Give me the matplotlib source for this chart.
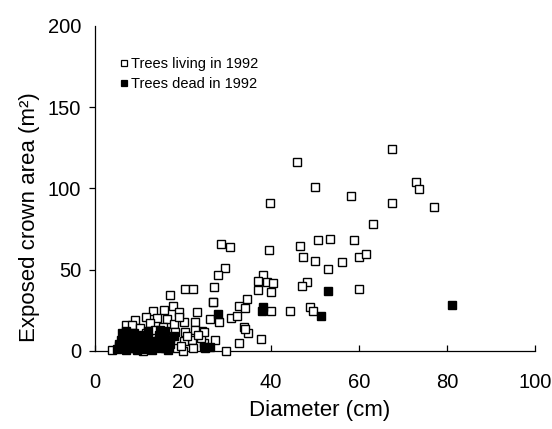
import matplotlib.pyplot as plt
from matplotlib.lines import Line2D
from matplotlib import font_manager

plt.rcParams['font.family'] = ['Liberation Sans', 'DejaVu Sans']

# trees living in 1992 (open squares): diameter (cm), exposed crown area (m2)
living_d = [46.0, 67.5, 50.1, 73.0, 73.7, 58.1, 67.5, 77.0, 63.2, 46.5,
            50.7, 53.5, 58.8, 47.4, 50.1, 53.0, 56.2, 60.0, 61.6, 48.2,
            47.0, 60.1, 48.9, 49.5, 39.9, 28.6, 30.8, 39.5, 29.5, 28.0,
            27.0, 38.3, 37.0, 39.1, 40.5, 37.0, 40.0, 26.9, 34.5, 32.7,
            34.0, 40.0, 44.4, 26.1, 28.1, 30.9, 32.3, 33.8, 34.9, 34.2,
            24.3, 27.4, 37.8, 32.7, 29.9, 24.7, 24.2,
            20.5, 22.4, 17.1, 26.8, 17.7, 15.6, 13.3, 19.2, 23.2, 14.1,
            16.4, 18.0, 20.2, 22.8, 22.8, 20.5, 24.7, 22.1, 20.2, 18.3,
            15.5, 22.4, 24.7, 11.5, 9.2, 7.0, 8.4, 10.3, 12.6, 13.7,
            11.5, 8.4, 3.9, 5.5, 9.0, 12.0, 16.0, 18.7, 20.0, 11.0,
            14.0, 17.0, 19.5, 7.5, 21.0, 23.5, 19.0, 15.0]
living_a = [116.0, 124.0, 100.8, 103.9, 99.6, 95.5, 90.8, 88.5, 78.1, 64.8,
            68.1, 68.9, 68.1, 57.9, 55.6, 50.3, 54.4, 57.9, 59.5, 42.5,
            40.1, 37.8, 27.0, 24.3, 91.0, 65.6, 64.2, 62.2, 51.3, 46.6,
            39.5, 47.0, 43.1, 42.1, 41.7, 37.4, 36.0, 30.1, 31.7, 27.6,
            26.2, 24.3, 24.3, 19.4, 17.6, 20.0, 21.5, 14.9, 10.8, 13.3,
            12.3, 6.7, 7.5, 4.7, 0.0, 4.7, 7.8,
            38.0, 38.0, 34.4, 30.3, 27.6, 25.2, 24.7, 24.1, 23.7, 20.0,
            19.4, 16.4, 18.0, 18.0, 12.9, 11.8, 11.8, 6.7, 6.3, 11.8,
            14.9, 1.6, 2.6, 21.1, 19.0, 16.0, 16.0, 13.9, 16.9, 12.9,
            10.8, 9.8, 0.5, 3.0, 2.0, 4.0, 2.0, 1.6, 0.0, 0.0,
            6.0, 8.0, 3.0, 6.0, 9.0, 9.5, 21.0, 9.0]

# trees dead in 1992 (filled squares)
dead_d = [52.9, 51.3, 81.2, 38.3, 37.9, 27.9, 25.1, 26.2, 6.2,
          5.0, 5.5, 6.0, 6.5, 7.0, 7.5, 8.0, 8.5, 9.0, 9.5,
          10.0, 10.5, 11.0, 11.5, 12.0, 12.5, 13.0, 13.5, 14.0, 14.5,
          15.0, 15.5, 16.0, 16.5, 17.0, 7.0, 9.5, 11.0, 18.0, 12.0,
          14.8, 6.0, 8.8, 16.2]
dead_a = [37.0, 21.7, 28.0, 27.0, 24.5, 22.5, 1.6, 2.6, 10.8,
          1.0, 4.0, 7.0, 2.0, 0.5, 5.0, 8.0, 2.0, 4.0, 0.5,
          6.0, 3.0, 1.0, 5.0, 8.0, 2.0, 0.5, 4.0, 6.0, 10.0,
          2.0, 7.0, 12.0, 0.5, 4.0, 12.0, 9.0, 10.0, 9.0, 12.5,
          13.0, 3.0, 11.0, 6.5]

x_ticks = [0, 20, 40, 60, 80, 100]
y_ticks = [0, 50, 100, 150, 200]

# axis titles look condensed in the original
names = {f.name for f in font_manager.fontManager.ttflist}
if 'Liberation Sans Narrow' in names:
    label_font = dict(family='Liberation Sans Narrow', fontsize=19)
else:
    label_font = dict(family='Liberation Sans', fontsize=16)

fig = plt.figure(figsize=(5.52, 4.29), dpi=100)
ax = fig.add_axes([0.172, 0.182, 0.797, 0.758])

ax.plot(living_d, living_a, linestyle='none', marker='s', ms=5.8, mew=1.0,
        mfc='white', mec='black', clip_on=False, zorder=3)
ax.plot(dead_d, dead_a, linestyle='none', marker='s', ms=5.8, mew=1.0,
        mfc='black', mec='black', clip_on=False, zorder=4)

ax.set_xlim(0, 100)
ax.set_ylim(0, 200)
ax.set_xticks(x_ticks)
ax.set_yticks(y_ticks)
ax.spines['top'].set_visible(False)
ax.spines['right'].set_visible(False)
for s in ['left', 'bottom']:
    ax.spines[s].set_linewidth(0.9)

ax.tick_params(axis='x', direction='in', length=4, width=0.9, pad=16, labelsize=14.5)
ax.tick_params(axis='y', direction='out', length=4, width=0.9, pad=6, labelsize=14.5)
ax.yaxis.get_major_ticks()[-1].tick1line.set_visible(False)
ax.set_yticks([200], minor=True)
ax.tick_params(axis='y', which='minor', direction='in', length=4, width=0.9)

ax.set_xlabel('Diameter (cm)', **label_font)
ax.set_ylabel('Exposed crown area (m²)', **label_font)
ax.xaxis.set_label_coords(0.51, -0.15)
ax.yaxis.set_label_coords(-0.125, 0.41)

handles = [
    Line2D([], [], linestyle='none', marker='s', ms=4.4, mew=0.9, mfc='white', mec='black'),
    Line2D([], [], linestyle='none', marker='s', ms=4.4, mew=0.9, mfc='black', mec='black'),
]
ax.legend(handles, ['Trees living in 1992', 'Trees dead in 1992'],
          loc='upper left', bbox_to_anchor=(0.218, 0.866),
          bbox_transform=fig.transFigure, frameon=False, fontsize=10.5,
          borderpad=0, borderaxespad=0, handlelength=0.5,
          handletextpad=0.2, labelspacing=0.4)

fig.savefig('out.png', dpi=100)
